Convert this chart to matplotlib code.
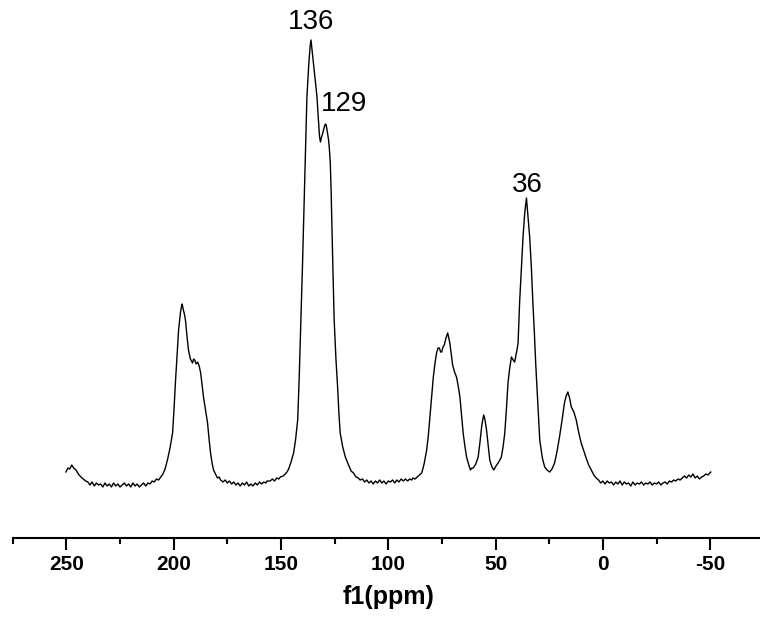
import matplotlib
matplotlib.use("Agg")
import matplotlib.pyplot as plt
from matplotlib.ticker import MultipleLocator

plt.rcParams['font.family'] = ['Liberation Sans', 'DejaVu Sans']
plt.rcParams['axes.unicode_minus'] = False

# spectrum: chemical shift (ppm) and intensity (arb.)
ppm = [250.2, 249.3, 248.4, 247.5, 246.6, 245.5, 244.4, 243.2, 242.1, 241.0, 240.0,
       239, 238, 237, 236, 235, 234, 233, 232, 231, 230, 229, 228, 227, 226, 225,
       224, 223, 222, 221, 220, 219, 218, 217, 216, 215, 214, 213, 212, 211, 210,
       209, 208, 207, 206, 205, 204, 202.9, 201.7, 200.5, 199.8, 199.1, 198.4, 197.7,
       196.8, 196.3, 196.0, 195.6, 195.0, 194.5, 193.8, 193.1, 192.2, 191.2, 190.7,
       190.2, 189.5, 188.8, 188.1, 187.4, 186.8, 186.1, 185.1, 184.2, 183.5, 182.8,
       182.1, 181.4, 180.5, 179.6, 178.8, 178.1, 177, 176, 175, 174, 173, 172, 171,
       170, 169, 168, 167, 166, 165, 164, 163, 162, 161, 160, 159, 158, 157, 156.5,
       155, 154, 153, 152, 151, 150.3, 149, 148, 147.2, 146.4, 145.3, 144.1, 143.2,
       142.2, 141.5, 140.7, 140.0, 139.4, 138.6, 137.9, 137.0, 136.4, 136.0, 135.5,
       134.8, 134.0, 133.2, 132.6, 132.0, 131.6, 131.2, 130.5, 129.8, 129.3, 128.9,
       128.3, 127.8, 127.4, 127.0, 126.6, 126.3, 125.8, 125.2, 124.4, 123.6, 123.0,
       122.4, 121.2, 120.0, 118.5, 117.3, 116.2, 115, 114, 113.1, 112, 111, 110, 109,
       108, 107, 106, 105, 104, 103, 102, 101, 100, 99, 98, 97, 96, 95, 94, 93, 92,
       91, 90, 89, 88.5, 87.5, 86.5, 85.5, 84.4, 83.3, 82.1, 81.3, 80.6, 79.8, 79.0,
       78.2, 77.5, 76.8, 76.2, 75.6, 75.1, 74.5, 73.9, 73.1, 72.3, 71.8, 71.3, 70.6,
       70.0, 69.1, 68.2, 67.4, 66.6, 65.8, 65.1, 64.3, 63.5, 62.6, 61.7, 61.0, 60.4,
       59.2, 58.1, 57.3, 56.5, 56.0, 55.5, 54.9, 54.2, 53.4, 52.7, 51.7, 50.8, 49.8,
       48.8, 48.0, 47.3, 46.5, 45.7, 44.9, 44.2, 43.4, 42.6, 41.8, 41.1, 40.5, 40.0,
       39.5, 38.8, 38.0, 37.2, 36.4, 35.6, 34.9, 34.1, 33.3, 32.6, 31.9, 31.3, 30.3,
       29.4, 28.2, 27.1, 26.0, 24.8, 23.7, 22.5, 21.4, 20.2, 19.0, 17.9, 17.1, 16.3,
       15.5, 14.7, 13.5, 12.4, 11.2, 10.1, 9.0, 7.8, 6.6, 5.4, 4.2, 3.1, 2, 1, 0,
       -1, -2, -3, -4, -5, -6, -7, -8, -9, -10, -11, -12, -13, -14, -15, -16, -17,
       -18, -19, -20, -21, -22, -23, -24, -25, -26, -27, -28, -29, -30, -31, -32,
       -33, -34, -35, -36, -37, -38, -39, -40, -41, -42, -43, -44, -45, -46, -47,
       -48, -49, -50.3]
intensity = [66, 70, 69, 73, 70, 68, 64, 61, 59, 57, 56,
             53, 56, 52, 55, 53, 54, 51, 55, 52, 54, 51, 55, 52, 54, 51,
             53, 55, 52, 54, 51, 55, 52, 54, 51, 53, 55, 52, 55, 54, 57,
             56, 59, 58, 61, 64, 69, 78, 90, 105, 130, 158, 183, 208,
             226, 232, 234, 229, 224, 218, 202, 188, 179, 175, 179,
             178, 174, 176, 172, 165, 154, 141, 127, 115, 99, 85,
             75, 68, 64, 60, 61, 58, 56, 58, 55, 57, 54, 56, 53,
             55, 52, 55, 53, 56, 52, 54, 52, 55, 53, 56, 54, 56, 55, 57,
             57, 59, 57, 60, 59, 61, 62, 64, 66, 69, 76, 85, 98,
             118, 160, 218, 270, 318, 385, 441, 475, 492, 498, 488,
             475, 458, 441, 420, 401, 396, 400, 405, 411, 414, 413,
             405, 398, 388, 375, 345, 316, 270, 218, 180, 151, 125,
             105, 91, 81, 73, 67, 65, 61, 60, 58, 59, 56, 58, 55,
             57, 54, 57, 55, 58, 55, 57, 54, 57, 56, 58, 55, 58, 56, 59, 57, 59,
             57, 59, 58, 60, 59, 61, 63, 65, 74, 88, 103, 121, 141, 161,
             175, 185, 190, 190, 186, 186, 191, 193, 200, 205, 200, 195, 183,
             173, 166, 161, 152, 141, 122, 105, 92, 81, 74, 68, 70, 70,
             74, 81, 95, 111, 118, 123, 118, 108, 92, 78, 71, 68, 72,
             75, 78, 81, 91, 105, 130, 155, 170, 181, 178, 176, 183, 188,
             195, 235, 268, 301, 325, 340, 322, 301, 270, 235, 205, 175, 135,
             98, 80, 71, 68, 66, 69, 75, 86, 101, 118, 135, 142, 146,
             140, 131, 126, 118, 105, 95, 88, 80, 73, 68, 63, 60, 58, 55, 57,
             54, 57, 55, 56, 53, 56, 54, 57, 53, 56, 54, 55, 52, 56, 53, 55, 54,
             56, 53, 55, 54, 56, 53, 55, 54, 56, 53, 55, 56, 54, 57, 56,
             58, 57, 59, 58, 60, 62, 60, 63, 61, 64, 60, 62, 59, 61, 62,
             64, 63, 66]

peak_labels = ['136', '129', '36']
label_ppm = [136, 120.6, 35.4]
label_int = [516, 434, 353]

fig = plt.figure(figsize=(7.6, 6.28), dpi=100)
ax = fig.add_axes([12.7 / 760, 90 / 628, 751.1 / 760, 518 / 628])
ax.plot(ppm, intensity, color='black', lw=1.0)

for txt, x, y in zip(peak_labels, label_ppm, label_int):
    ax.text(x, y, txt, fontsize=20, ha='center', va='center')

ax.set_xlim(275, -75)
ax.set_ylim(0, 518)
for side in ['left', 'top', 'right']:
    ax.spines[side].set_visible(False)
ax.spines['bottom'].set_linewidth(1.5)
ax.set_yticks([])
ax.xaxis.set_major_locator(MultipleLocator(50))
ax.xaxis.set_minor_locator(MultipleLocator(25))
ax.tick_params(axis='x', which='major', length=8.5, width=1.5, pad=4, labelsize=15)
ax.tick_params(axis='x', which='minor', length=4.3, width=1.5)
for lab in ax.get_xticklabels():
    lab.set_fontweight('bold')
ax.set_xlabel('f1(ppm)', fontsize=18, fontweight='bold', labelpad=8)

fig.savefig('out.png', dpi=100)
